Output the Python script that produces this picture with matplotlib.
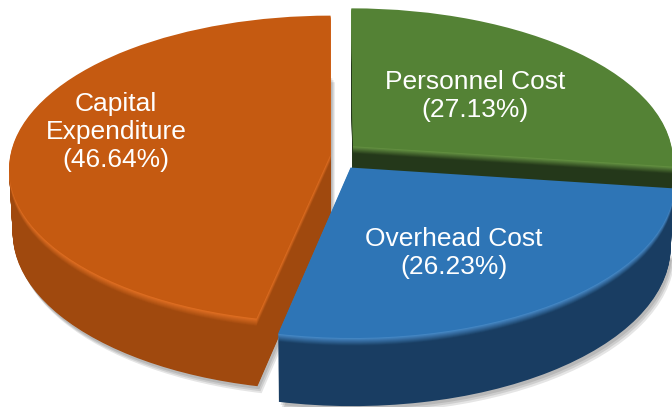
import numpy as np
import matplotlib.pyplot as plt
from matplotlib.colors import to_rgb
from matplotlib.transforms import Transform

# clockwise from 12 o'clock
labels = ["Personnel Cost", "Overhead Cost", "Capital\nExpenditure"]
shares = [27.13, 26.23, 46.64]
explode = [0.088, 0.10, 0.005]
top_colors = ["#548235", "#2E75B6", "#C55A11"]
side_colors = ["#24381A", "#193D62", "#A0490E"]
rim_colors = ["#6A9A45", "#4A90D0", "#E57224"]
label_px = [(475, 96), (454, 253), (116, 132)]

W, H = 672, 407
cx, cy = 332, 155      # pie centre on screen (px)
elev = np.radians(28.4)
dist = 9.5             # camera distance in pie radii
focal = 320 * dist     # -> horizontal radius 320 px
thick = 0.228          # pie thickness in radii


class Tilt(Transform):
    """Perspective view of the pie plane lying at height z."""
    input_dims = output_dims = 2

    def __init__(self, z=0.0, dx=0.0, dy=0.0):
        super().__init__()
        self.z, self.dx, self.dy = z, dx, dy

    def transform_non_affine(self, pts):
        pts = np.asarray(pts, dtype=float)
        u, v = pts[:, 0], pts[:, 1]
        w = dist + v * np.cos(elev) - self.z * np.sin(elev)
        sx = cx + self.dx + focal * u / w
        sy = cy + self.dy - focal * (v * np.sin(elev) + self.z * np.cos(elev)) / w
        return np.column_stack([sx, sy])


fig = plt.figure(figsize=(W / 100, H / 100), dpi=100)
ax = fig.add_axes([0, 0, 1, 1])


def draw_pie(colors, z, zorders, alpha=1.0, dx=0.0, dy=0.0):
    wedges, _ = ax.pie(shares, explode=explode, colors=colors, startangle=90,
                       counterclock=False)
    for w, zo in zip(wedges, zorders):
        w.set_transform(Tilt(z, dx, dy) + ax.transData)
        w.set_zorder(zo)
        w.set_linewidth(0)
        w.set_alpha(alpha)


# soft shadow under the pie
for off in [7, 5, 3]:
    draw_pie(["#000000"] * 3, -thick, [0.5] * 3, alpha=0.10, dx=off * 0.6, dy=off)

# side walls: stacked copies going down, bright bevel near the top
n_layers = 70
for k in range(n_layers, 0, -1):
    t = k / n_layers
    mix = min(1.0, t / 0.12)
    cols = [tuple(np.array(to_rgb(r)) * (1 - mix) + np.array(to_rgb(s)) * mix)
            for r, s in zip(rim_colors, side_colors)]
    draw_pie(cols, -thick * t, [1, 3, 2])

# top faces
draw_pie(top_colors, 0.0, [5, 5, 5])

ax.set_aspect('auto')
ax.set_xlim(0, W)
ax.set_ylim(H, 0)
ax.axis('off')

for lab, val, (px, py) in zip(labels, shares, label_px):
    ax.text(px, py, f"{lab}\n({val:.2f}%)", ha='center', va='center',
            color='white', fontsize=19, family='Liberation Sans', zorder=10)

fig.savefig("out.png", dpi=100)
